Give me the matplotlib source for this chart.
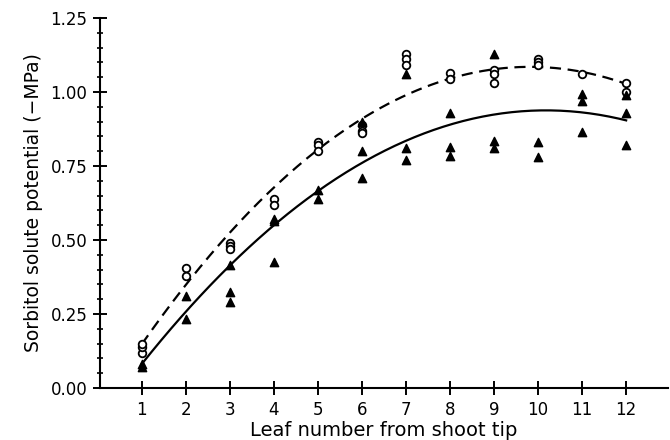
import numpy as np
import matplotlib
matplotlib.use('Agg')
import matplotlib.pyplot as plt

### Dados

# pontos abertos (circulos) por folha
circ_x = [1, 1, 1, 2, 2, 3, 3, 3, 4, 4, 5, 5, 5, 6, 6, 6,
          7, 7, 7, 8, 8, 9, 9, 9, 10, 10, 10, 11, 12, 12]
circ_y = [0.12, 0.14, 0.15, 0.405, 0.38, 0.49, 0.48, 0.47, 0.64, 0.62, 0.83, 0.82, 0.80, 0.89, 0.87, 0.86,
          1.13, 1.11, 1.09, 1.065, 1.045, 1.075, 1.06, 1.03, 1.11, 1.10, 1.09, 1.06, 1.03, 1.00]

# pontos cheios (triangulos) por folha
tri_x = [1, 1, 2, 2, 3, 3, 3, 4, 4, 4, 5, 5, 6, 6, 6,
         7, 7, 7, 8, 8, 8, 9, 9, 9, 10, 10, 11, 11, 11, 12, 12, 12]
tri_y = [0.07, 0.08, 0.31, 0.235, 0.415, 0.325, 0.29, 0.57, 0.565, 0.425, 0.67, 0.64, 0.90, 0.80, 0.71,
         1.06, 0.81, 0.77, 0.93, 0.815, 0.785, 1.13, 0.835, 0.81, 0.83, 0.78, 0.995, 0.97, 0.865, 0.99, 0.93, 0.82]

# curvas ajustadas
fit_x = list(range(1, 13))
fit_dash = [0.15, 0.355, 0.52, 0.67, 0.80, 0.91, 0.99, 1.05, 1.08, 1.09, 1.07, 1.02]
fit_solid = [0.07, 0.26, 0.42, 0.56, 0.67, 0.76, 0.83, 0.88, 0.92, 0.94, 0.93, 0.91]

xticks = list(range(1, 13))
yticks = [0.00, 0.25, 0.50, 0.75, 1.00, 1.25]

### Grafico
plt.rcParams['font.family'] = ['DejaVu Sans']

fig = plt.figure(figsize=(6.7, 4.4), dpi=100)
ax = fig.add_axes([0.149, 0.118, 0.848, 0.841])

xs = np.linspace(1, 12, 200)
c_d = np.polyfit(fit_x, fit_dash, 2)
c_s = np.polyfit(fit_x, fit_solid, 2)
ax.plot(xs, np.polyval(c_d, xs), color='black', lw=1.6, ls=(0, (5, 3)))
ax.plot(xs, np.polyval(c_s, xs), color='black', lw=1.6)

ax.scatter(circ_x, circ_y, s=30, marker='o', facecolors='white', edgecolors='black',
           linewidths=1.3, zorder=3)
ax.scatter(tri_x, tri_y, s=36, marker='^', color='black', zorder=4)

ax.set_xlim(0.05, 12.95)
ax.set_ylim(0, 1.25)
ax.set_xticks(xticks)
ax.set_yticks(yticks)
ax.set_yticklabels(['%.2f' % v for v in yticks])
ax.set_yticks(np.arange(0, 1.2501, 0.05), minor=True)

for s in ['top', 'right']:
    ax.spines[s].set_visible(False)
for s in ['left', 'bottom']:
    ax.spines[s].set_linewidth(1.5)

ax.tick_params(axis='both', which='major', direction='inout', length=10, width=1.4,
               labelsize=12, pad=4)
ax.tick_params(axis='y', which='minor', direction='inout', length=5, width=1.2)

ax.set_xlabel('Leaf number from shoot tip', fontsize=14, labelpad=2)
ax.set_ylabel('Sorbitol solute potential (\u2212MPa)', fontsize=13.5, labelpad=5)

fig.savefig('out.png', dpi=100)
